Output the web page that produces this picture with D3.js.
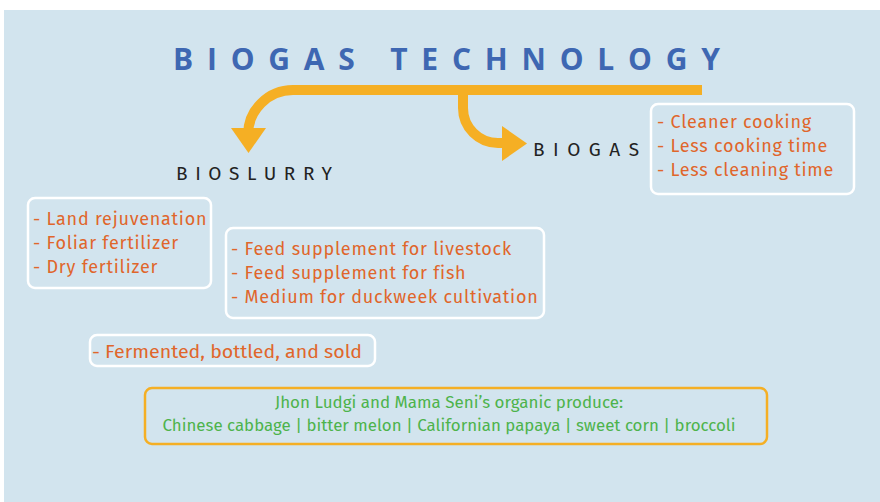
<!DOCTYPE html>
<meta charset="utf-8">
<style>
body { margin: 0; background: #fff; }
text { font-family: "Fira Sans", "Noto Sans", sans-serif; }
.item { fill: #e0662b; font-size: 18px; letter-spacing: 0.75px; }
.box { fill: none; stroke: #fff; stroke-width: 2.5px; }
</style>
<svg width="880" height="502"></svg>
<script src="https://d3js.org/d3.v7.min.js"></script>
<script>
// diagram text
var title = "BIOGAS TECHNOLOGY";
var branches = ["BIOSLURRY", "BIOGAS"];
var biogasUses = ["- Cleaner cooking", "- Less cooking time", "- Less cleaning time"];
var soilUses = ["- Land rejuvenation", "- Foliar fertilizer", "- Dry fertilizer"];
var feedUses = ["- Feed supplement for livestock", "- Feed supplement for fish", "- Medium for duckweek cultivation"];
var saleUses = ["- Fermented, bottled, and sold"];
var produceLines = ["Jhon Ludgi and Mama Seni\u2019s organic produce:",
  "Chinese cabbage | bitter melon | Californian papaya | sweet corn | broccoli"];

var svg = d3.select("svg");
var orange = "#f5af24";

svg.append("rect")
    .attr("x", 4).attr("y", 10).attr("width", 876).attr("height", 492)
    .attr("fill", "#d2e4ee");

// title
svg.append("text")
    .attr("x", 173).attr("y", 70)
    .attr("textLength", 547).attr("lengthAdjust", "spacing")
    .style("font-family", "'Open Sans', sans-serif")
    .style("font-weight", 700)
    .style("font-size", "30px")
    .style("fill", "#3e67b2")
    .text(title);

// arrows
var p = d3.path();
p.moveTo(702, 90);
p.lineTo(293, 90);
p.arc(293, 135, 45, -Math.PI / 2, Math.PI, true);
p.lineTo(248, 132);
p.moveTo(463, 90);
p.lineTo(463, 108);
p.arc(498, 108, 35, Math.PI, Math.PI / 2, true);
p.lineTo(506, 143);

svg.append("path")
    .attr("d", p.toString())
    .attr("fill", "none")
    .attr("stroke", orange)
    .attr("stroke-width", 10);

svg.append("path")
    .attr("d", "M231,128L266,128L248.5,153Z")
    .attr("fill", orange);
svg.append("path")
    .attr("d", "M502,126L527,143.5L502,161Z")
    .attr("fill", orange);

// branch labels
svg.append("text")
    .attr("x", 176).attr("y", 180)
    .attr("textLength", 156).attr("lengthAdjust", "spacing")
    .style("font-size", "19px").style("fill", "#222")
    .text(branches[0]);
svg.append("text")
    .attr("x", 533).attr("y", 156)
    .attr("textLength", 106).attr("lengthAdjust", "spacing")
    .style("font-size", "19px").style("fill", "#222")
    .text(branches[1]);

// list boxes
function listBox(lines, x, y, w, h, tx, ty, step, squeeze) {
  svg.append("rect").attr("class", "box")
      .attr("x", x).attr("y", y).attr("width", w).attr("height", h)
      .attr("rx", 7);
  var t = svg.selectAll(null)
    .data(lines)
    .enter().append("text")
      .attr("class", "item")
      .attr("x", tx)
      .attr("y", function(d, i) { return ty + i * step; })
      .text(function(d) { return d; });
  if (squeeze) {
    t.style("letter-spacing", "0px")
      .attr("textLength", squeeze)
      .attr("lengthAdjust", "spacingAndGlyphs");
  }
}

listBox(biogasUses, 651, 104, 203, 90, 657, 128, 24);
listBox(soilUses, 28, 198, 183, 90, 33, 225, 24);
listBox(feedUses, 226, 228, 318, 90, 231, 255, 24);
listBox(saleUses, 90, 335, 285, 31, 92, 358, 24, 270);

// produce box
svg.append("rect")
    .attr("x", 145).attr("y", 388).attr("width", 622).attr("height", 56)
    .attr("rx", 7)
    .attr("fill", "none").attr("stroke", orange).attr("stroke-width", 2.5);

var produceWidths = [348, 573];
svg.selectAll(null)
  .data(produceLines)
  .enter().append("text")
    .attr("x", 449)
    .attr("y", function(d, i) { return 408 + i * 23; })
    .attr("text-anchor", "middle")
    .attr("textLength", function(d, i) { return produceWidths[i]; })
    .attr("lengthAdjust", "spacingAndGlyphs")
    .style("font-size", "16.5px")
    .style("fill", "#4db34b")
    .text(function(d) { return d; });
</script>
